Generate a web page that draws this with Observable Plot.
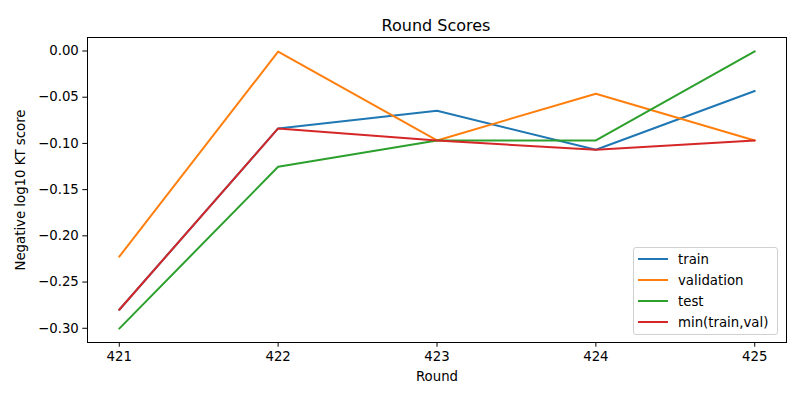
<!DOCTYPE html>
<html>
<head>
<meta charset="utf-8">
<script src="https://cdn.jsdelivr.net/npm/d3@7"></script>
<script src="https://cdn.jsdelivr.net/npm/@observablehq/plot@0.6"></script>
<style>
  body { margin: 0; background: #fff; font-family: "DejaVu Sans", sans-serif; }
  #wrap { position: relative; width: 800px; height: 400px; }
  #title { position: absolute; left: 0; top: 0; width: 800px; z-index: 2; box-sizing: border-box; padding-top: 18px; line-height: 16px; font-size: 16px; text-align: center; padding-left: 72px; color: #000; }
  #chart { position: absolute; left: 0; top: 30px; z-index: 1; }
  #legend { position: absolute; z-index: 3; left: 633px; top: 247px; width: 145px; height: 88px; box-sizing: border-box;
    border: 1px solid #d0d0d0; border-radius: 3px; background: rgba(255,255,255,0.8); font-size: 13.3px; }
  .row { position: absolute; left: 0; height: 20px; display: flex; align-items: center; }
  .row svg { margin-left: 4px; }
  .row span { margin-left: 10px; }
</style>
</head>
<body>
<div id="wrap">
  <div id="title">Round Scores</div>
  <div id="chart"></div>
  <div id="legend"></div>
</div>
<script>
const rounds = [421, 422, 423, 424, 425];
const train = [-0.280, -0.0838, -0.0647, -0.1069, -0.0433];
const validation = [-0.2225, -0.0007, -0.0968, -0.0462, -0.0968];
const test = [-0.3004, -0.1253, -0.0968, -0.0968, -0.0004];
const minTrainVal = [-0.280, -0.0838, -0.0968, -0.1069, -0.0968];
const seriesNames = ["train", "validation", "test", "min(train,val)"];
const seriesColors = ["#1f77b4", "#ff7f0e", "#2ca02c", "#d62728"];
const yTicks = [0, -0.05, -0.10, -0.15, -0.20, -0.25, -0.30];

const seriesValues = [train, validation, test, minTrainVal];
const data = [];
seriesNames.forEach((name, i) => {
  rounds.forEach((r, j) => data.push({round: r, value: seriesValues[i][j], series: name}));
});

const fmt = d3.format(".2f");
const chart = Plot.plot({
  width: 800,
  height: 370,
  marginTop: 7,
  marginBottom: 58,
  marginLeft: 87,
  marginRight: 14,
  style: {fontFamily: "DejaVu Sans, sans-serif", fontSize: "13.3px", color: "#000", background: "transparent"},
  x: {domain: [420.8, 425.2], ticks: rounds, tickFormat: d => String(d), label: "Round", labelAnchor: "center", labelArrow: "none", labelOffset: 38, tickSize: 4.7, tickPadding: 4},
  y: {domain: [-0.3154, 0.0146], ticks: yTicks, tickFormat: fmt, label: "Negative log10 KT score", labelAnchor: "center", labelArrow: "none", labelOffset: 72, tickSize: 4.7, tickPadding: 4},
  color: {domain: seriesNames, range: seriesColors},
  marks: [
    Plot.line(data, {x: "round", y: "value", z: "series", stroke: "series", strokeWidth: 2}),
    Plot.frame({stroke: "#000", strokeWidth: 1})
  ]
});
document.getElementById("chart").appendChild(chart);

const legend = document.getElementById("legend");
seriesNames.forEach((name, i) => {
  const row = document.createElement("div");
  row.className = "row";
  row.style.top = (i * 21 + 1) + "px";
  row.innerHTML = `<svg width="30" height="4"><line x1="0" x2="30" y1="2" y2="2" stroke="${seriesColors[i]}" stroke-width="2"/></svg><span>${name}</span>`;
  legend.appendChild(row);
});
</script>
</body>
</html>
